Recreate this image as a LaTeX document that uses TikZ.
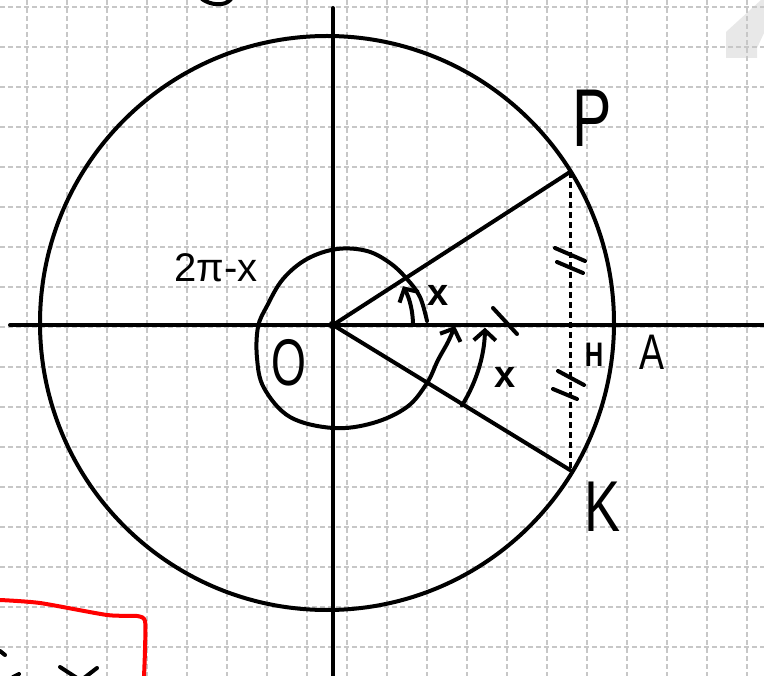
\documentclass[tikz,border=0pt]{standalone}
\usepackage{fontspec}
\setmainfont{Liberation Sans}
\usetikzlibrary{arrows.meta}
\begin{document}
\begin{tikzpicture}[x=1pt,y=-1pt,
  gridline/.style={draw=black!22, line width=1.5pt, dash pattern=on 5pt off 3pt},
  ink/.style={draw=black, line width=4pt, line cap=round, line join=round},
  dashink/.style={draw=black, line width=3pt, dash pattern=on 6pt off 4pt},
  redink/.style={draw=red, line width=4pt, line cap=round, line join=round},
  barb/.style={-{Straight Barb[length=10pt,width=22pt,line width=4pt]}},
  hand/.style={inner sep=0pt, outer sep=0pt}
]
\useasboundingbox (0,0) rectangle (764,676);
\fill[white] (0,0) rectangle (764,676);
% faint grey shape top right
\fill[black!9] (726,58) -- (726,32) -- (761,0) -- (764,0) -- (764,33) -- (757,48) -- (757,58) -- cycle;
% grid
\foreach \i in {0,...,18} \draw[gridline] (27+40*\i,0) -- (27+40*\i,676);
\foreach \j in {0,...,16} \draw[gridline] (0,7+40*\j) -- (764,7+40*\j);

% key points
\coordinate (O) at (333,325);
\coordinate (C) at (327,323);
\coordinate (P) at (570,172);
\coordinate (K) at (570,470);
\coordinate (xl) at (10,325);
\coordinate (xr) at (764,325);
\coordinate (yt) at (333,8);
\coordinate (yb) at (333,677);

% axes and big circle
\draw[ink] (xl) -- (xr);
\draw[ink] (yt) -- (yb);
\draw[ink] (C) circle[radius=287];
\fill (O) circle[radius=4.5];

% radii and chord
\draw[ink] (O) -- (P);
\draw[ink] (O) -- (K);
\draw[dashink] (P) -- (K);

% spiral around O
\draw[ink, barb] plot[smooth, tension=0.6] coordinates {(427,321) (420,297) (407,279) (390,263) (367,251) (337,249) (307,259) (283,279) (267,306) (258,327) (257,358) (264,388) (290,417) (333,428) (373,423) (407,407) (427,383) (438,360) (448,342) (455,326)};

% angle arcs
\draw[ink, barb] ([shift={(0:80)}]O) arc[start angle=0, end angle=-29, radius=80];
\draw[ink, barb] ([shift={(32:152)}]O) arc[start angle=32, end angle=1, radius=152];

% slash on axis
\coordinate (s1) at (493,308);
\coordinate (s2) at (517,334);
\draw[ink] (s1) -- (s2);

% equal tick marks on chord
\coordinate (t1a) at (555,248); \coordinate (t1b) at (585,261);
\coordinate (t2a) at (557,262); \coordinate (t2b) at (583,273);
\coordinate (t3a) at (558,371); \coordinate (t3b) at (584,385);
\coordinate (t4a) at (553,389); \coordinate (t4b) at (577,399);
\draw[ink] (t1a) -- (t1b);
\draw[ink] (t2a) -- (t2b);
\draw[ink] (t3a) -- (t3b);
\draw[ink] (t4a) -- (t4b);

% labels
\node[hand] (lP) at (592,118) {\fontsize{82}{82}\selectfont\scalebox{0.72}[1]{P}};
\node[hand] (lK) at (603,507) {\fontsize{72}{72}\selectfont\scalebox{0.75}[1]{K}};
\node[hand] (lA) at (652,352) {\fontsize{50}{50}\selectfont\scalebox{0.75}[1]{A}};
\node[hand] (lO) at (289,363) {\fontsize{66}{66}\selectfont\scalebox{0.68}[1]{O}};
\node[hand] (lH) at (594,355) {\fontsize{34}{34}\selectfont\bfseries\scalebox{0.75}[1]{H}};
\node[hand] (lx1) at (438,295) {\fontsize{38}{38}\selectfont\bfseries x};
\node[hand] (lx2) at (505,377) {\fontsize{38}{38}\selectfont\bfseries x};
\node[hand] (l2pi) at (216,268) {\fontsize{40}{40}\selectfont 2π-x};

% fragments at the edges
\draw[ink] (202,-1) .. controls (210,5) and (225,7) .. (231,-1);
\draw[redink] plot[smooth, tension=0.4] coordinates {(0,600) (40,603) (107,615) (137,616) (145,621) (145,650) (144,677)};
\draw[ink] (0,651) -- (5,655);
\draw[ink] (13,677) -- (19,674);
\draw[ink] (60,667) -- (77,678);
\draw[ink] (97,668) -- (84,678);
\end{tikzpicture}
\end{document}
